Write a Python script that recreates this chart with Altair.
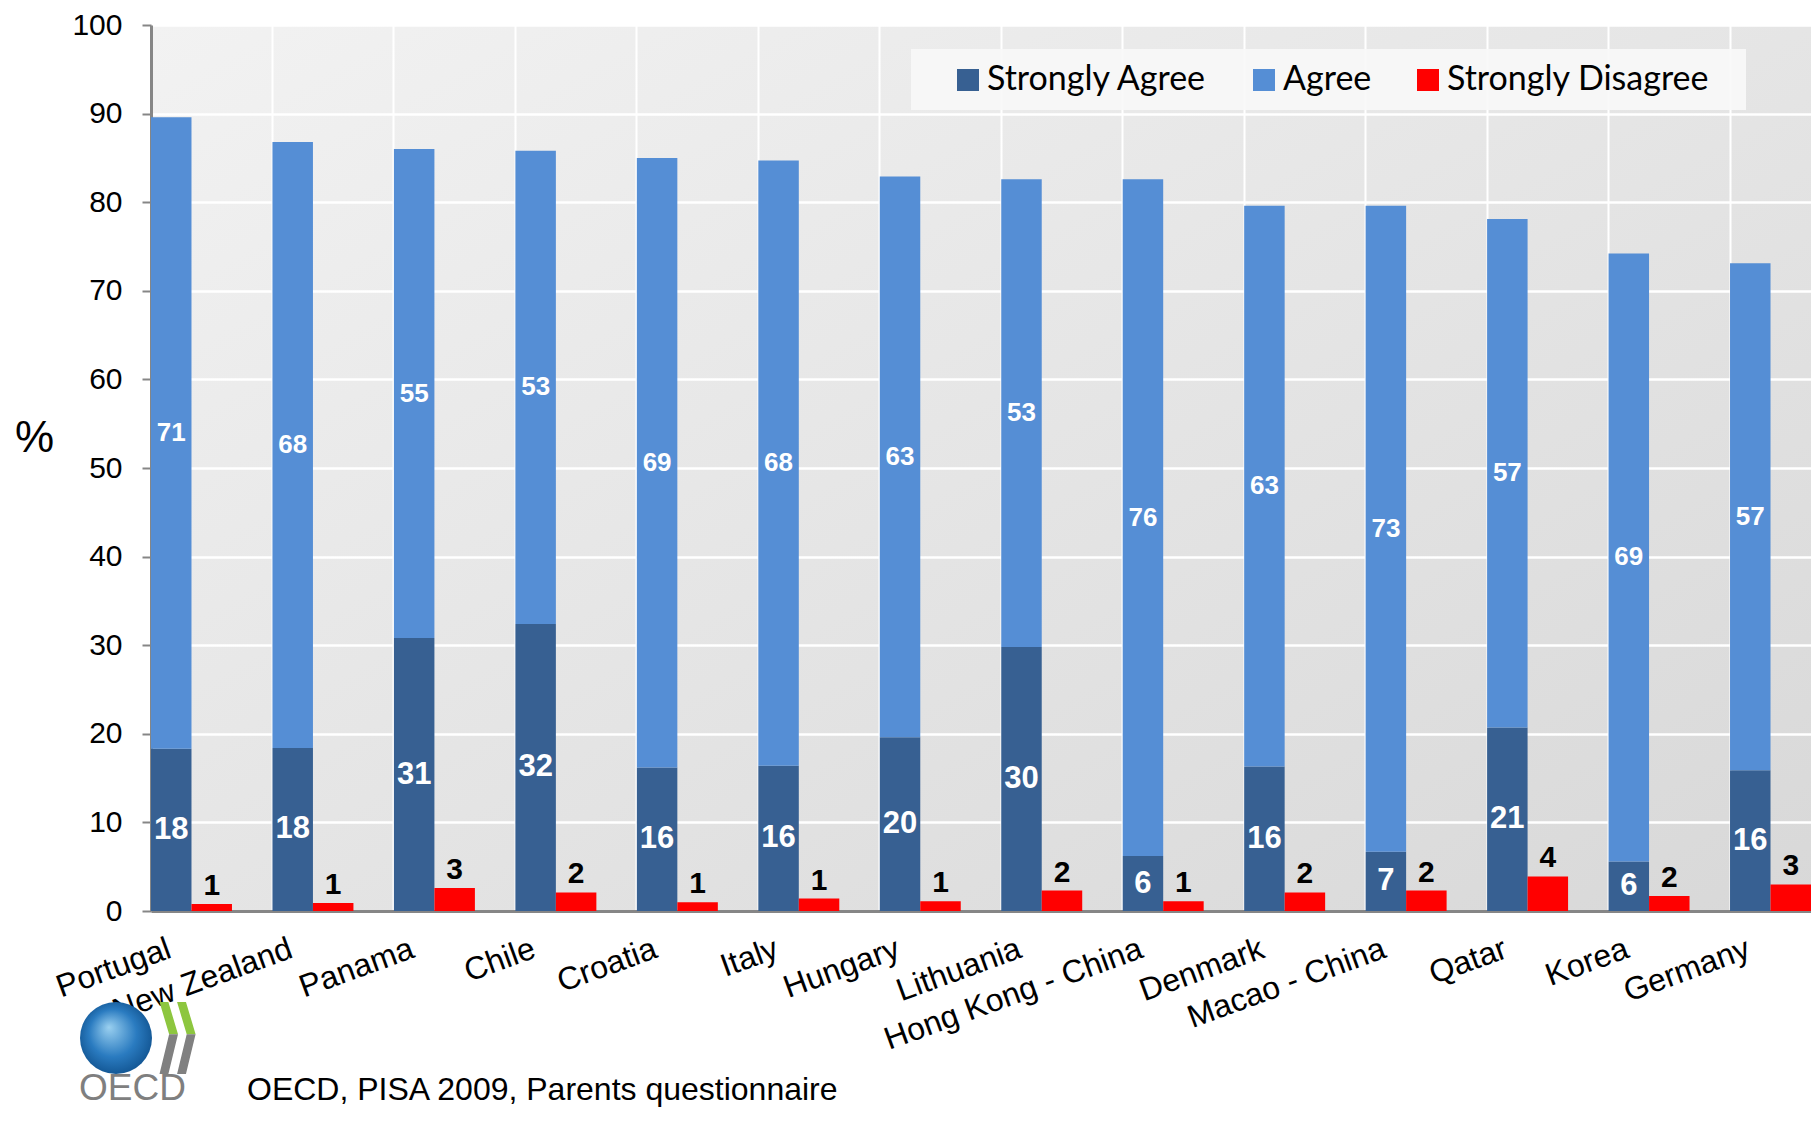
import altair as alt
import pandas as pd

# ---- data ----
countries = ["Portugal", "New Zealand", "Panama", "Chile", "Croatia", "Italy", "Hungary",
             "Lithuania", "Hong Kong - China", "Denmark", "Macao - China", "Qatar", "Korea", "Germany"]
strongly_agree = [18.3, 18.4, 30.8, 32.4, 16.2, 16.4, 19.6, 29.8, 6.2, 16.3, 6.7, 20.7, 5.6, 15.9]
agree = [71.3, 68.4, 55.2, 53.4, 68.8, 68.3, 63.3, 52.8, 76.4, 63.3, 72.9, 57.4, 68.6, 57.2]
strongly_disagree = [0.8, 0.9, 2.6, 2.1, 1.0, 1.4, 1.1, 2.3, 1.1, 2.1, 2.3, 3.9, 1.7, 3.0]
series_names = ["Strongly Agree", "Agree", "Strongly Disagree"]
series_colors = ["#376092", "#558ED5", "#FF0000"]
y_ticks = [0, 10, 20, 30, 40, 50, 60, 70, 80, 90, 100]
source_note = "OECD, PISA 2009, Parents questionnaire"
logo_text = "OECD"

rows = []
for c, sa, a, sd in zip(countries, strongly_agree, agree, strongly_disagree):
    rows.append(dict(country=c, grp="S", series="Strongly Agree", lo=0, hi=sa, mid=sa / 2, val=sa))
    rows.append(dict(country=c, grp="S", series="Agree", lo=sa, hi=sa + a, mid=sa + a / 2, val=a))
    rows.append(dict(country=c, grp="R", series="Strongly Disagree", lo=0, hi=sd, mid=sd, val=sd))
df = pd.DataFrame(rows)

W, H = 1660, 886
FONT = "Liberation Sans"

x_axis = alt.Axis(title=None, bandPosition=0, grid=True, gridColor="white", gridWidth=2,
                  ticks=False, tickSize=0, domainColor="#868686", domainWidth=3,
                  labelAngle=-20, labelAlign="right", labelBaseline="top", labelOffset=-27,
                  labelPadding=22, labelFont=FONT, labelFontSize=32, labelColor="black",
                  labelLimit=500, labelOverlap=False)
y_axis = alt.Axis(values=y_ticks, title="%", titleAngle=0, titleX=-117, titleY=413,
                  titleAlign="center", titleBaseline="middle", titleFont=FONT, titleFontSize=44,
                  titleFontWeight="normal", titleColor="black", labelFont=FONT, labelFontSize=30,
                  labelColor="black", labelPadding=20, tickSize=9, tickColor="#868686", tickWidth=2,
                  domainColor="#868686", domainWidth=3, grid=True, gridColor="white", gridWidth=2.5)

x_enc = alt.X("country:N", sort=countries, scale=alt.Scale(paddingInner=1 / 3, paddingOuter=0), axis=x_axis)
xo_enc = alt.XOffset("grp:N", sort=["S", "R"], scale=alt.Scale(domain=["S", "R"], paddingInner=0, paddingOuter=0))
y_scale = alt.Scale(domain=[0, 100], nice=False)

base = alt.Chart(df)

bars = base.mark_bar().encode(
    x=x_enc,
    xOffset=xo_enc,
    y=alt.Y("lo:Q", scale=y_scale, axis=y_axis),
    y2="hi:Q",
    color=alt.Color("series:N", scale=alt.Scale(domain=series_names, range=series_colors),
                    legend=alt.Legend(title=None, orient="none", legendX=800, legendY=38,
                                      direction="horizontal", symbolType="square", symbolSize=484,
                                      symbolStrokeWidth=0, labelFont="Lato", labelFontSize=34,
                                      labelColor="black", labelOffset=2, columnPadding=39,
                                      padding=0, labelLimit=500)),
)

one = alt.InlineData(values=[{"k": 0}])

legend_bg = alt.Chart(one).mark_rect(color="#F8F8F8", opacity=0.9).encode(
    x=alt.value(760), x2=alt.value(1595), y=alt.value(24), y2=alt.value(85))

def label_layer(series, size, color, baseline, dy):
    return base.transform_filter(alt.datum.series == series).mark_text(
        font=FONT, fontWeight="bold", fontSize=size, color=color, baseline=baseline, dy=dy
    ).encode(
        x=x_enc, xOffset=xo_enc,
        y=alt.Y("mid:Q", scale=y_scale, axis=y_axis),
        text=alt.Text("val:Q", format=".0f"),
    )

sa_lbl = label_layer("Strongly Agree", 31, "white", "middle", 0)
a_lbl = label_layer("Agree", 26, "white", "middle", 0)
sd_lbl = label_layer("Strongly Disagree", 30, "black", "alphabetic", -9)

globe = alt.Chart(one).mark_point(
    shape="circle", filled=True, size=5184, strokeWidth=0, opacity=1,
    color=alt.RadialGradient(gradient="radial", x1=0.4, y1=0.35, x2=0.5, y2=0.5, r1=0, r2=0.6,
                             stops=[alt.GradientStop(color="#9AD0F0", offset=0),
                                    alt.GradientStop(color="#2A7BC0", offset=0.55),
                                    alt.GradientStop(color="#0B4A85", offset=1)])
).encode(x=alt.value(-35), y=alt.value(1013))

green_path = ("M -0.5 -0.975 L -0.26 -0.975 L 0 -0.1 L -0.24 -0.1 Z "
              "M -0.025 -0.975 L 0.215 -0.975 L 0.475 -0.1 L 0.235 -0.1 Z")
gray_path = ("M -0.24 -0.1 L 0 -0.1 L -0.26 0.975 L -0.5 0.975 Z "
             "M 0.235 -0.1 L 0.475 -0.1 L 0.215 0.975 L -0.025 0.975 Z")
chev_green = alt.Chart(one).mark_point(shape=green_path, filled=True, size=5476, strokeWidth=0,
                                        opacity=1, color="#8DC63F").encode(x=alt.value(27), y=alt.value(1013))
chev_gray = alt.Chart(one).mark_point(shape=gray_path, filled=True, size=5476, strokeWidth=0,
                                       opacity=1, color="#808080").encode(x=alt.value(27), y=alt.value(1013))
logo_lbl = alt.Chart(one).mark_text(font=FONT, fontSize=37, color="#7F7F7F", align="left",
                                     baseline="alphabetic", text=logo_text).encode(
    x=alt.value(-72), y=alt.value(1075))
note = alt.Chart(one).mark_text(font=FONT, fontSize=32, color="black", align="left",
                                baseline="alphabetic", text=source_note).encode(
    x=alt.value(96), y=alt.value(1075))

chart = alt.layer(bars, legend_bg, sa_lbl, a_lbl, sd_lbl, globe, chev_green, chev_gray, logo_lbl, note).properties(
    width=W, height=H,
    autosize=alt.AutoSizeParams(type="none"),
    padding={"left": 143, "top": 17, "right": 0, "bottom": 197},
    background="white",
).configure_view(
    stroke="transparent",
    fill=alt.ExprRef(expr="{gradient: 'linear', x1: 0, y1: 0, x2: 1, y2: 1, stops: [{offset: 0, color: '#F2F2F2'}, {offset: 1, color: '#D8D8D8'}]}"),
)

chart.save("out.html", embed_options={"renderer": "svg", "actions": False})
